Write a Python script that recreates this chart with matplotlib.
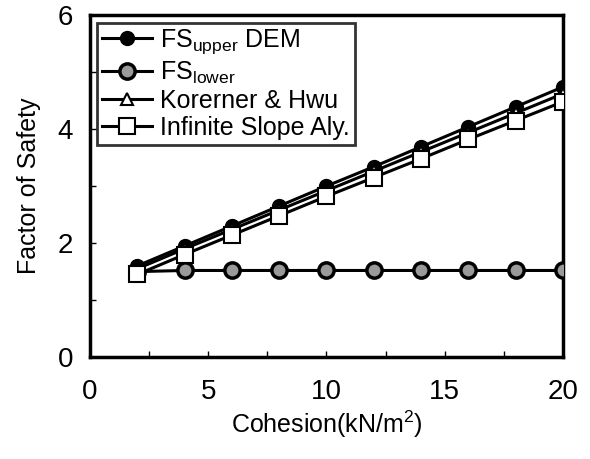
import matplotlib
matplotlib.use("Agg")
from matplotlib import pyplot as plt
from matplotlib.ticker import MultipleLocator

plt.rcParams["font.family"] = ["Liberation Sans", "DejaVu Sans"]
plt.rcParams["mathtext.fontset"] = "custom"
plt.rcParams["mathtext.rm"] = "Liberation Sans"
plt.rcParams["mathtext.it"] = "Liberation Sans"

cohesion = [2, 4, 6, 8, 10, 12, 14, 16, 18, 20]
fs_upper = [1.60, 1.95, 2.30, 2.65, 3.00, 3.34, 3.69, 4.04, 4.39, 4.74]
fs_lower = [1.50, 1.52, 1.52, 1.52, 1.52, 1.52, 1.52, 1.52, 1.52, 1.52]
koerner = [1.55, 1.90, 2.24, 2.58, 2.92, 3.26, 3.60, 3.94, 4.28, 4.62]
infinite = [1.45, 1.80, 2.14, 2.48, 2.82, 3.15, 3.48, 3.82, 4.15, 4.48]

fig = plt.figure(figsize=(5.9, 4.59), dpi=100)
ax = fig.add_axes([0.1525, 0.222, 0.8015, 0.745])

lw = 2.2
ax.plot(cohesion, fs_upper, "-o", color="black", lw=lw, ms=10,
        mfc="black", mec="black", label="FS$_{\\mathrm{upper}}$ DEM", zorder=3)
ax.plot(cohesion, fs_lower, "-o", color="black", lw=lw, ms=11,
        mfc="#9a9a9a", mec="black", mew=2.5, label="FS$_{\\mathrm{lower}}$", zorder=3)
ax.plot(cohesion, koerner, "-^", color="black", lw=lw, ms=8,
        mfc="white", mec="black", mew=1.5, label="Korerner & Hwu", zorder=4)
ax.plot(cohesion, infinite, "-s", color="black", lw=lw, ms=11,
        mfc="white", mec="black", mew=1.5, label="Infinite Slope Aly.", zorder=5)

ax.set_xlim(0, 20)
ax.set_ylim(0, 6)
ax.xaxis.set_major_locator(MultipleLocator(5))
ax.xaxis.set_minor_locator(MultipleLocator(2.5))
ax.yaxis.set_major_locator(MultipleLocator(2))
ax.yaxis.set_minor_locator(MultipleLocator(1))
ax.tick_params(which="both", direction="in", length=4, width=1, labelsize=20)
ax.tick_params(axis="x", pad=16)
ax.tick_params(axis="y", pad=12)
for s in ax.spines.values():
    s.set_linewidth(2.5)

ax.set_xlabel("Cohesion(kN/m$^2$)", fontsize=18, labelpad=2)
ax.set_ylabel("Factor of Safety", fontsize=18, labelpad=12)

leg = ax.legend(loc="upper left", fontsize=18, frameon=True, fancybox=False,
                edgecolor="black", handlelength=2.0, handletextpad=0.3,
                labelspacing=0.12, borderpad=0.2, borderaxespad=0.3)
leg.get_frame().set_linewidth(2)

fig.savefig("out.png", dpi=100)
